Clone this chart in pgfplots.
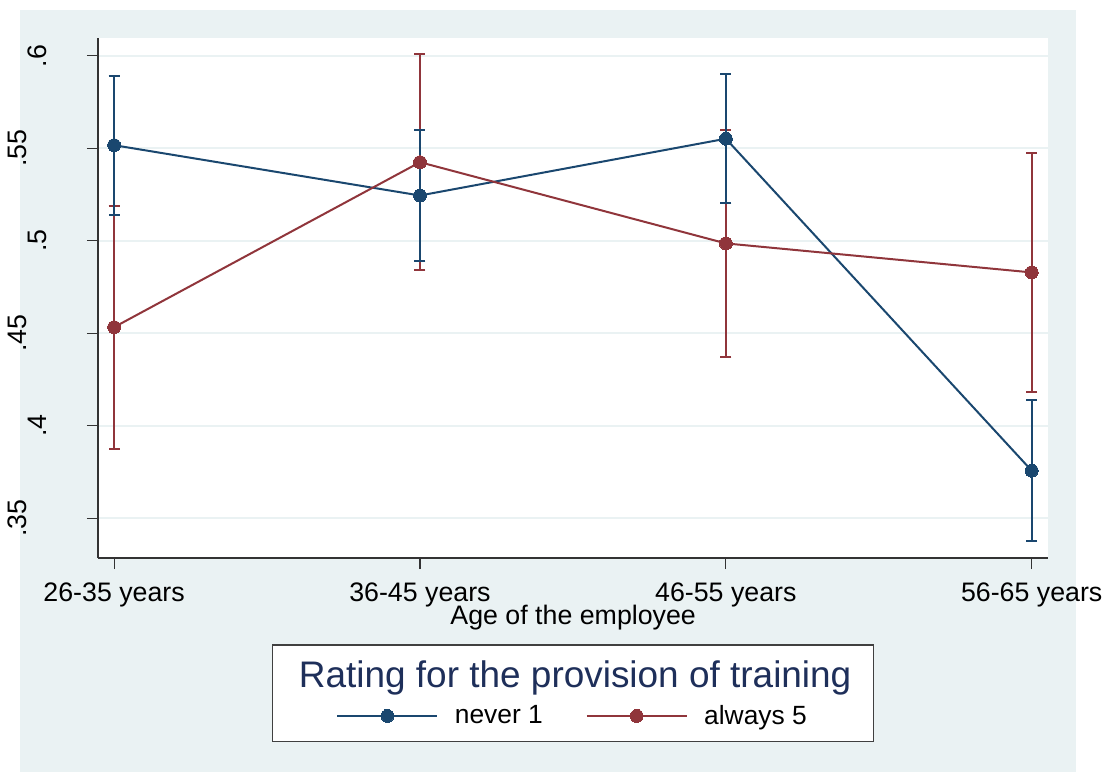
\documentclass[border=0pt]{standalone}
\usepackage{fontspec}
\setmainfont{Liberation Sans}
\usepackage{pgfplots}
\pgfplotsset{compat=1.18}
\usepackage{pgfplotstable}

\definecolor{stnavy}{RGB}{26,71,111}
\definecolor{stmaroon}{RGB}{144,53,59}
\definecolor{stbg}{RGB}{234,242,243}
\definecolor{sttitle}{RGB}{30,47,90}

% margins with 95% CI half-width
\pgfplotstableread{
x y e
0 0.5517 0.0375
1 0.5245 0.0355
2 0.5552 0.0350
3 0.3757 0.0382
}\never
\pgfplotstableread{
x y e
0 0.4533 0.0657
1 0.5425 0.0584
2 0.4986 0.0614
3 0.4829 0.0645
}\always

\begin{document}
\begin{tikzpicture}
\fill[white] (0,0) rectangle (554.5pt,387pt);
\fill[stbg] (10pt,0.5pt) rectangle (539pt,382pt);
\draw[black!75, line width=0.65pt, fill=white] (136.35pt,15.65pt) rectangle (437.5pt,64pt);
\node[anchor=base, font=\fontsize{18.5}{22}\selectfont, text=sttitle, inner sep=0pt]
  at (288pt,42.5pt) {Rating for the provision of training};
\begin{axis}[
  at={(49pt,107.5pt)}, anchor=south west,
  scale only axis, width=476pt, height=260.5pt,
  xmin=-0.0532, xmax=3.0548, ymin=0.3284, ymax=0.6097,
  axis x line*=bottom, axis y line*=left,
  axis line style={line width=0.7pt, black!80, -},
  axis background/.style={fill=white},
  tick align=outside, major tick length=5.5pt,
  tick style={line width=0.6pt, black!80},
  xtick={0,1,2,3},
  xticklabels={26-35 years,36-45 years,46-55 years,56-65 years},
  xticklabel style={yshift=-3.5pt},
  ytick={0.35,0.4,0.45,0.5,0.55,0.6},
  yticklabels={\raisebox{10pt}{.35},.4,\raisebox{10pt}{.45},.5,\raisebox{10pt}{.55},.6},
  yticklabel style={xshift=-16.5pt, rotate=90, anchor=south},
  ticklabel style={font=\fontsize{13.4}{16}\selectfont},
  ymajorgrids, major grid style={stbg, line width=1pt},
  every error bar/.style={line width=1pt},
  xlabel={Age of the employee},
  xlabel style={at={(axis description cs:0.5,-0.1267)}, anchor=base, font=\fontsize{13.4}{16}\selectfont},
  legend columns=2,
  legend style={at={(axis description cs:0.4984,-0.3033)}, anchor=center,
    draw=none, fill=none, inner sep=0pt, nodes={inner sep=0pt},
    font=\fontsize{13.2}{15}\selectfont,
    /tikz/every odd column/.append style={column sep=8.3pt},
    /tikz/every even column/.append style={column sep=21.5pt}},
  legend image code/.code={\draw[mark repeat=2,mark phase=2,#1] plot coordinates {(0pt,0pt) (25pt,0pt) (50pt,0pt)};},
]
\addplot[forget plot, stmaroon, line width=1pt, only marks, mark=*, mark size=0pt,
  error bars/.cd, y dir=both, y explicit, error mark=|,
  error bar style={line width=1pt, stmaroon},
  error mark options={stmaroon, line width=1pt, mark size=2.75pt}]
  table[x=x, y=y, y error=e] {\always};
\addplot[forget plot, stnavy, line width=1pt, only marks, mark=*, mark size=0pt,
  error bars/.cd, y dir=both, y explicit, error mark=|,
  error bar style={line width=1pt, stnavy},
  error mark options={stnavy, line width=1pt, mark size=2.75pt}]
  table[x=x, y=y, y error=e] {\never};
\addplot[stnavy, line width=1pt, mark=*, mark size=3.25pt,
  mark options={fill=stnavy, draw=stnavy, line width=0pt}]
  table[x=x, y=y] {\never};
\addlegendentry{never 1}
\addplot[stmaroon, line width=1pt, mark=*, mark size=3.25pt,
  mark options={fill=stmaroon, draw=stmaroon, line width=0pt}]
  table[x=x, y=y] {\always};
\addlegendentry{always 5}
\end{axis}
\end{tikzpicture}
\end{document}
